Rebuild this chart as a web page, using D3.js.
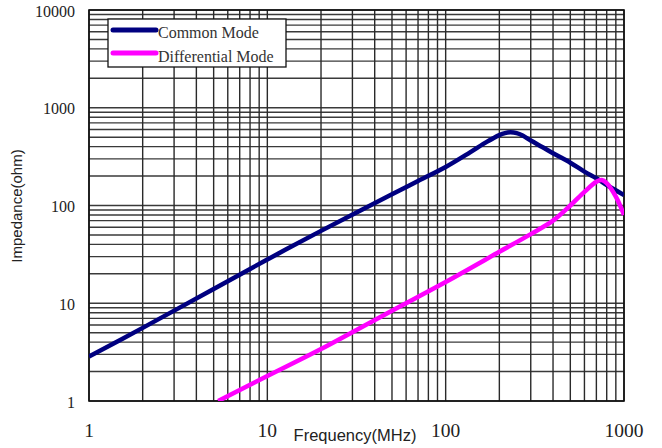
<!DOCTYPE html>
<html>
<head>
<meta charset="utf-8">
<script src="https://cdn.jsdelivr.net/npm/d3@7"></script>
<style>
  body { margin: 0; background: #fff; }
  svg { display: block; }
</style>
</head>
<body>
<div id="graph"></div>
<script>
// values
var cmFreq = [1, 2, 5, 10, 20, 50, 70, 100, 137, 170, 200, 215, 230, 250, 270, 300, 350, 400, 500, 600, 700, 800, 1000];
var cmImp  = [2.85, 5.6, 14, 28, 55, 130, 178, 248, 350, 448, 525, 550, 560, 550, 520, 462, 394, 342, 274, 222, 190, 162, 128];

var dmFreq = [5.3, 10, 20, 50, 100, 200, 300, 400, 500, 600, 700, 750, 800, 900, 1000];
var dmImp  = [1.0, 1.8, 3.4, 8.4, 16.5, 33.6, 51, 70, 100, 138, 175, 182, 169, 123, 80];

var xTicks = [1, 10, 100, 1000];
var yTicks = [1, 10, 100, 1000, 10000];
var seriesNames = ['Common Mode', 'Differential Mode'];
var seriesColors = ['#000080', '#ff00ff'];

var w = 662,
    h = 448;
var pLeft = 89, pRight = 624, pTop = 10, pBottom = 401;

var vis = d3.select('#graph')
            .append('svg')
            .attr('width', w)
            .attr('height', h);

var x = d3.scaleLog().domain([1, 1000]).range([pLeft, pRight]);
var y = d3.scaleLog().domain([1, 10000]).range([pBottom, pTop]);

// minor + major grid values
var xGrid = [], yGrid = [];
[1, 10, 100].forEach(function(d) {
  for (var k = 1; k < 10; k++) xGrid.push(d * k);
});
xGrid.push(1000);
[1, 10, 100, 1000].forEach(function(d) {
  for (var k = 1; k < 10; k++) yGrid.push(d * k);
});
yGrid.push(10000);

vis.selectAll('.hgrid')
    .data(yGrid)
    .enter()
    .append('line')
    .attr('class', 'hgrid')
    .attr('x1', pLeft)
    .attr('x2', pRight)
    .attr('y1', function(d) { return y(d); })
    .attr('y2', function(d) { return y(d); })
    .attr('stroke', '#3a3a3a')
    .attr('stroke-width', 1.4);

vis.selectAll('.vgrid')
    .data(xGrid)
    .enter()
    .append('line')
    .attr('class', 'vgrid')
    .attr('x1', function(d) { return x(d); })
    .attr('x2', function(d) { return x(d); })
    .attr('y1', pTop)
    .attr('y2', pBottom)
    .attr('stroke', '#2a2a2a')
    .attr('stroke-width', 1.4);

vis.append('rect')
    .attr('x', pLeft)
    .attr('y', pTop)
    .attr('width', pRight - pLeft)
    .attr('height', pBottom - pTop)
    .attr('fill', 'none')
    .attr('stroke', '#111')
    .attr('stroke-width', 1.6);

// tick labels
vis.selectAll('.xlab')
    .data(xTicks)
    .enter()
    .append('text')
    .attr('x', function(d) { return x(d); })
    .attr('y', 437)
    .attr('text-anchor', 'middle')
    .attr('font-family', '"Liberation Serif", serif')
    .attr('font-size', '19.5px')
    .attr('fill', '#222')
    .text(function(d) { return d; });

vis.selectAll('.ylab')
    .data(yTicks)
    .enter()
    .append('text')
    .attr('x', 75)
    .attr('y', function(d) { return y(d) + 1; })
    .attr('dy', '0.35em')
    .attr('text-anchor', 'end')
    .attr('font-family', '"Liberation Serif", serif')
    .attr('font-size', '16px')
    .attr('fill', '#222')
    .text(function(d) { return d; });

vis.append('text')
    .attr('x', 355)
    .attr('y', 441)
    .attr('text-anchor', 'middle')
    .attr('font-family', '"Liberation Sans", Arial, sans-serif')
    .attr('font-size', '16.5px')
    .attr('fill', '#222')
    .text('Frequency(MHz)');

vis.append('text')
    .attr('transform', 'translate(22,206) rotate(-90)')
    .attr('text-anchor', 'middle')
    .attr('font-family', '"Liberation Sans", Arial, sans-serif')
    .attr('font-size', '15px')
    .attr('fill', '#222')
    .text('Impedance(ohm)');

// curves
var line = d3.line()
    .x(function(d) { return x(d[0]); })
    .y(function(d) { return y(d[1]); })
    .curve(d3.curveCatmullRom.alpha(0.5));

var cm = d3.zip(cmFreq, cmImp);
var dm = d3.zip(dmFreq, dmImp);

vis.append('clipPath')
    .attr('id', 'plotclip')
    .append('rect')
    .attr('x', pLeft)
    .attr('y', pTop)
    .attr('width', pRight - pLeft)
    .attr('height', pBottom - pTop);

vis.append('path')
    .datum(cm)
    .attr('d', line)
    .attr('clip-path', 'url(#plotclip)')
    .attr('fill', 'none')
    .attr('stroke', seriesColors[0])
    .attr('stroke-width', 4.5);

vis.append('path')
    .datum(dm)
    .attr('d', line)
    .attr('clip-path', 'url(#plotclip)')
    .attr('fill', 'none')
    .attr('stroke', seriesColors[1])
    .attr('stroke-width', 4.5);

// legend
var lg = vis.append('g');
lg.append('rect')
    .attr('x', 108)
    .attr('y', 19)
    .attr('width', 178)
    .attr('height', 48)
    .attr('fill', '#fff')
    .attr('stroke', '#111')
    .attr('stroke-width', 1.3);

lg.selectAll('.lline')
    .data(seriesNames)
    .enter()
    .append('line')
    .attr('x1', 113)
    .attr('x2', 156)
    .attr('y1', function(d, i) { return 30 + i * 23; })
    .attr('y2', function(d, i) { return 30 + i * 23; })
    .attr('stroke', function(d, i) { return seriesColors[i]; })
    .attr('stroke-width', 5)
    .attr('stroke-linecap', 'round');

lg.selectAll('.ltext')
    .data(seriesNames)
    .enter()
    .append('text')
    .attr('x', 158)
    .attr('y', function(d, i) { return 38 + i * 23.5; })
    .attr('font-family', '"Liberation Serif", serif')
    .attr('font-size', '16px')
    .attr('fill', '#333')
    .text(function(d) { return d; });
</script>
</body>
</html>
